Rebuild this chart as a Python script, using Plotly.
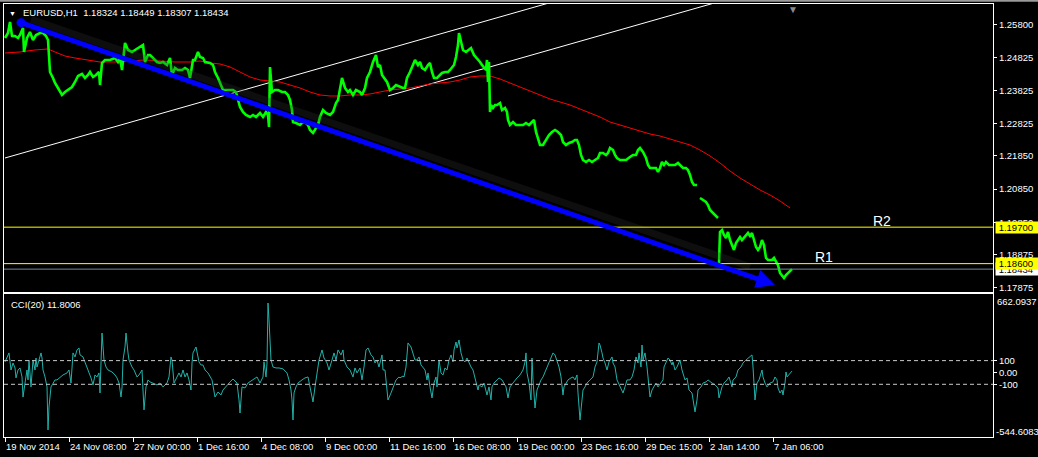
import plotly.graph_objects as go

# ---------------- data ----------------
# EURUSD H1 closes: (bar index, price); None = gap in the bars
price_series = [
    (0, 1.25408), (3, 1.25558), (5, 1.25890), (7, 1.25468), (10, 1.25468), (13, 1.25408), (15, 1.25498),
    (18, 1.25709), (19, 1.24985), (22, 1.25408), (25, 1.25589), (28, 1.25347), (31, 1.25498), (35, 1.25558),
    (38, 1.25558), (41, 1.25468), (43, 1.25347), (44, 1.24593), (45, 1.24382), (48, 1.24201), (50, 1.24050),
    (53, 1.23899), (57, 1.23688), (60, 1.23778), (63, 1.23839), (67, 1.23929), (70, 1.24080), (73, 1.24261),
    (77, 1.24321), (80, 1.24201), (83, 1.24291), (85, 1.24382), (88, 1.24231), (91, 1.24291), (94, 1.24382),
    (95, 1.23989), (97, 1.24653), (100, 1.24744), (105, 1.24744), (110, 1.24804), (113, 1.24683), (115, 1.24804),
    (117, 1.24442), (120, 1.25257), (123, 1.25046), (127, 1.24985), (130, 1.25046), (135, 1.25136), (138, 1.25196),
    (140, 1.24683), (143, 1.24895), (145, 1.24895), (148, 1.24804), (152, 1.24683), (155, 1.24653), (158, 1.24683),
    (162, 1.24593), (165, 1.24804), (167, 1.24291), (170, 1.24502), (173, 1.24442), (177, 1.24442), (180, 1.24502),
    (183, 1.24442), (185, 1.24201), (188, 1.24744), (190, 1.24744), (193, 1.24985), (195, 1.24834), (198, 1.24804),
    (200, 1.24683), (205, 1.24653), (208, 1.24593), (210, 1.24382), (213, 1.24201), (215, 1.24050), (218, 1.23839),
    (221, 1.23839), (225, 1.23839), (228, 1.23839), (231, 1.23778), (233, 1.23537), (235, 1.23326), (238, 1.23175),
    (241, 1.23084), (245, 1.23024), (248, 1.23084), (251, 1.23024), (255, 1.23145), (258, 1.23024), (261, 1.23175),
    (263, 1.23084), (264, 1.22722), (265, 1.24533), (267, 1.23778), (270, 1.23839), (273, 1.23839), (277, 1.23778),
    (280, 1.23778), (283, 1.23688), (285, 1.23537), (287, 1.23235), (288, 1.22873), (291, 1.22843), (295, 1.22783),
    (298, 1.22873), (301, 1.22843), (303, 1.22783), (305, 1.22632), (308, 1.22541), (311, 1.22692), (313, 1.22783),
    (315, 1.23024), (318, 1.23235), (321, 1.23145), (325, 1.23084), (328, 1.23175), (331, 1.23446), (333, 1.23537),
    (335, 1.23899), (337, 1.24201), (340, 1.23899), (343, 1.23778), (345, 1.23839), (348, 1.23688), (351, 1.23839),
    (355, 1.23778), (357, 1.23688), (360, 1.23899), (362, 1.24201), (365, 1.24382), (368, 1.24683), (371, 1.24895),
    (373, 1.24533), (375, 1.24593), (377, 1.24291), (380, 1.24140), (382, 1.24080), (385, 1.23839), (388, 1.23899),
    (391, 1.23989), (395, 1.23929), (398, 1.23899), (400, 1.23899), (402, 1.24201), (405, 1.24382), (408, 1.24593),
    (410, 1.24744), (413, 1.24593), (415, 1.24683), (417, 1.24502), (420, 1.24442), (423, 1.24593), (425, 1.24653),
    (427, 1.24382), (429, 1.24201), (432, 1.24201), (435, 1.24291), (437, 1.24352), (440, 1.24382), (443, 1.24382),
    (445, 1.24442), (447, 1.24533), (449, 1.24593), (451, 1.24834), (453, 1.25196), (454, 1.25558), (456, 1.25287),
    (458, 1.25046), (461, 1.24985), (463, 1.25046), (466, 1.25106), (469, 1.24895), (472, 1.24804), (475, 1.24683),
    (477, 1.24593), (479, 1.24502), (481, 1.24442), (482, 1.24744), (483, 1.24080), (484, 1.24683), (485, 1.23175),
    (486, 1.23386), (488, 1.23296), (490, 1.23386), (492, 1.23386), (495, 1.23446), (497, 1.23235), (500, 1.23296),
    (502, 1.23175), (503, 1.22934), (505, 1.22783), (508, 1.22873), (511, 1.22783), (515, 1.22783), (518, 1.22783),
    (521, 1.22843), (524, 1.22783), (527, 1.22873), (529, 1.22934), (531, 1.22572), (533, 1.22330), (535, 1.22179),
    (538, 1.22179), (541, 1.22330), (544, 1.22481), (547, 1.22572), (550, 1.22632), (553, 1.22572), (556, 1.22481),
    (558, 1.22270), (561, 1.22179), (564, 1.22240), (567, 1.22270), (570, 1.22330), (572, 1.22330), (574, 1.22179),
    (576, 1.21878), (578, 1.21727), (581, 1.21666), (584, 1.21727), (587, 1.21666), (590, 1.21727), (593, 1.21787),
    (595, 1.21938), (598, 1.21938), (601, 1.21878), (603, 1.21938), (605, 1.22089), (608, 1.22028), (610, 1.21878),
    (612, 1.21787), (615, 1.21727), (618, 1.21727), (621, 1.21727), (625, 1.21817), (628, 1.21878), (631, 1.21878),
    (633, 1.22028), (635, 1.22089), (638, 1.21968), (641, 1.21787), (643, 1.21576), (645, 1.21485), (648, 1.21485),
    (651, 1.21485), (653, 1.21365), (655, 1.21485), (657, 1.21666), (659, 1.21576), (661, 1.21666), (664, 1.21576),
    (667, 1.21576), (670, 1.21576), (673, 1.21636), (675, 1.21576), (678, 1.21485), (681, 1.21485), (683, 1.21425),
    (685, 1.21274), (687, 1.21063), (689, 1.20973), (692, 1.20973), (None, None),
    (695, 1.20580), (698, 1.20520), (701, 1.20460), (703, 1.20369), (705, 1.20218), (708, 1.20128), (711, 1.20037),
    (713, 1.19977), (None, None),
    (714, 1.18589), (715, 1.19555), (717, 1.19615), (719, 1.19464), (721, 1.19374), (723, 1.19555), (725, 1.19313),
    (727, 1.19162), (729, 1.19012), (731, 1.19223), (733, 1.19313), (735, 1.19404), (737, 1.19313), (739, 1.19374),
    (741, 1.19464), (743, 1.19524), (745, 1.19434), (747, 1.19524), (749, 1.19313), (751, 1.19102), (753, 1.19012),
    (755, 1.19102), (757, 1.19313), (759, 1.19162), (761, 1.18770), (763, 1.18710), (765, 1.18710), (767, 1.18710),
    (769, 1.18770), (771, 1.18649), (773, 1.18559), (775, 1.18318), (777, 1.18227), (779, 1.18167), (781, 1.18257),
    (783, 1.18318), (785, 1.18348), (787, 1.18434),
]

# Moving average (red)
ma_series = [
    (0, 1.24955), (15, 1.24985), (30, 1.25046), (43, 1.25076), (50, 1.24985), (60, 1.24864), (70, 1.24804),
    (85, 1.24744), (95, 1.24683), (110, 1.24683), (125, 1.24714), (140, 1.24744), (155, 1.24714), (170, 1.24683),
    (185, 1.24683), (195, 1.24714), (205, 1.24653), (215, 1.24623), (225, 1.24533), (235, 1.24382), (245, 1.24231),
    (255, 1.24140), (265, 1.24110), (275, 1.24080), (285, 1.23989), (295, 1.23899), (305, 1.23778), (315, 1.23688),
    (325, 1.23658), (335, 1.23658), (345, 1.23688), (355, 1.23688), (365, 1.23718), (375, 1.23778), (385, 1.23839),
    (395, 1.23869), (405, 1.23899), (415, 1.23959), (425, 1.24020), (435, 1.24050), (445, 1.24080), (455, 1.24140),
    (465, 1.24231), (475, 1.24261), (485, 1.24261), (495, 1.24171), (505, 1.24050), (515, 1.23929), (525, 1.23809),
    (535, 1.23688), (545, 1.23567), (555, 1.23477), (565, 1.23386), (575, 1.23265), (585, 1.23145), (595, 1.23024),
    (605, 1.22873), (615, 1.22783), (625, 1.22692), (635, 1.22602), (645, 1.22511), (655, 1.22451), (665, 1.22360),
    (675, 1.22270), (685, 1.22179), (695, 1.22028), (705, 1.21848), (715, 1.21636), (725, 1.21395), (735, 1.21184),
    (745, 1.21003), (755, 1.20822), (765, 1.20671), (775, 1.20490), (785, 1.20279),
]

# CCI(20)
cci_series = [
    (0, 89), (2, 131), (4, 165), (6, 21), (8, 80), (10, 38), (11, -46), (13, 21), (15, 38), (17, -38), (18, -207),
    (20, -89), (22, 21), (23, -63), (24, 105), (26, -122), (27, 46), (28, 105), (30, 21), (31, 122), (32, 46),
    (34, 105), (36, 165), (37, 122), (38, 21), (40, -38), (42, -122), (43, -485), (44, -291), (46, -122), (48, -89),
    (50, -63), (52, -63), (55, -38), (58, -21), (62, -4), (64, 21), (66, -89), (67, 105), (68, 165), (70, 131),
    (72, 190), (74, 207), (75, 148), (78, 131), (80, 89), (82, 46), (84, -4), (86, -46), (88, -105), (90, -21),
    (92, -38), (94, -4), (95, -173), (96, 165), (97, 333), (99, 105), (101, 46), (103, 21), (107, 4), (110, -21),
    (112, -46), (114, -89), (116, -207), (117, -131), (118, 105), (120, 215), (121, 333), (123, 165), (124, 105),
    (127, 46), (129, 21), (132, -38), (134, -21), (137, 21), (138, -122), (139, -316), (141, -122), (143, -63),
    (145, -80), (148, -89), (152, -105), (155, -89), (158, -122), (162, -89), (164, -38), (166, 131), (167, 105),
    (169, -89), (172, -38), (174, -4), (176, -38), (178, 21), (180, -38), (182, -4), (184, -63), (186, -148),
    (187, 80), (188, 165), (191, 215), (192, 165), (194, 89), (196, 63), (198, 63), (200, 21), (203, -4), (207, -63),
    (210, -207), (213, -165), (216, -190), (218, -148), (222, -105), (225, -80), (228, -55), (232, -89), (234, -232),
    (235, -342), (237, -122), (240, -131), (243, -89), (247, -63), (250, -46), (252, -38), (255, -89), (258, -38),
    (259, 89), (261, -38), (262, 80), (263, 586), (264, 443), (266, 105), (268, 46), (271, 38), (274, 38), (278, 30),
    (282, -4), (284, -63), (286, -148), (287, -232), (288, -401), (289, -173), (291, -122), (293, -89), (297, -63),
    (300, -46), (303, -38), (305, -122), (307, -232), (308, -249), (310, -122), (312, -4), (314, 105), (317, 190),
    (319, 122), (322, 80), (324, 21), (327, 105), (329, 165), (331, 105), (333, 190), (336, 148), (338, 190),
    (339, 105), (342, 46), (345, 21), (348, -38), (350, 38), (352, -4), (355, 38), (357, -63), (359, 46), (361, 190),
    (363, 207), (366, 148), (368, 131), (370, 80), (372, 105), (374, 46), (377, 148), (378, 21), (380, 21),
    (382, -148), (383, -232), (386, -173), (388, -122), (391, -63), (394, -38), (395, -46), (398, -30), (399, -38),
    (401, 46), (403, 249), (406, 215), (408, 165), (410, 105), (412, 105), (414, 131), (416, 63), (418, 46),
    (420, 21), (422, -63), (423, -4), (425, -122), (427, -215), (429, -89), (431, -38), (432, -122), (434, 105),
    (436, -4), (438, -21), (440, 38), (442, 21), (444, 105), (446, 148), (448, 89), (449, 190), (451, 257),
    (452, 207), (454, 274), (456, 165), (458, 105), (460, 89), (462, 122), (464, 80), (466, 46), (468, 21),
    (471, -89), (473, -148), (474, -105), (477, -122), (479, -89), (481, -165), (482, -190), (484, -122),
    (486, -232), (487, -122), (489, -89), (492, -63), (494, -46), (497, -63), (499, -89), (501, -122), (503, -215),
    (505, -122), (508, -89), (510, -63), (512, -46), (515, -21), (518, 21), (520, 89), (521, 165), (522, -4),
    (524, -89), (526, -232), (527, 122), (528, -63), (530, -300), (532, -148), (533, -122), (536, -63), (538, -38),
    (540, 4), (542, 46), (545, 105), (548, 165), (550, 148), (552, 105), (554, 46), (556, -38), (558, -190),
    (559, -122), (561, -89), (563, -63), (566, -46), (568, -38), (570, -63), (572, -21), (573, -173), (575, -401),
    (577, -232), (578, -148), (580, -122), (582, -89), (585, -63), (588, -38), (590, 46), (592, 89), (594, 249),
    (595, 232), (597, 165), (598, 122), (600, 80), (602, 21), (604, 89), (607, 131), (608, 80), (610, 46),
    (612, -63), (615, -122), (618, -173), (620, -122), (622, -63), (625, -63), (627, -38), (629, 21), (631, 131),
    (633, 80), (634, 165), (636, 46), (637, 232), (638, 105), (640, 165), (642, 46), (643, -63), (645, -207),
    (647, -148), (649, -122), (651, -89), (653, -122), (656, -89), (658, -63), (659, 46), (661, 80), (663, 122),
    (665, 105), (667, 63), (668, 89), (670, 21), (672, 46), (675, 105), (677, 21), (678, -4), (680, -63),
    (682, -46), (684, -148), (687, -173), (688, -232), (690, -333), (692, -232), (693, -148), (696, -122),
    (698, -89), (701, -80), (703, -63), (707, -89), (710, -105), (713, -131), (714, -215), (717, -122), (719, -89),
    (722, -63), (724, -38), (727, -122), (728, -63), (731, -38), (733, 21), (736, 46), (738, 80), (741, 105),
    (743, 122), (745, 131), (747, 148), (748, 46), (750, -232), (752, -89), (754, -63), (757, 21), (758, -38),
    (760, -89), (762, -122), (765, -89), (768, -80), (770, -38), (772, -63), (773, -131), (775, -173), (777, -148),
    (778, -190), (780, -89), (781, 4), (782, -38), (784, -21), (786, -4), (787, 11.8006),
]

# time axis
time_tick_idx = [0, 64, 128, 192, 256, 320, 384, 448, 512, 576, 640, 704, 768]
time_tick_text = ["19 Nov 2014", "24 Nov 08:00", "27 Nov 00:00", "1 Dec 16:00", "4 Dec 08:00", "9 Dec 00:00",
                  "11 Dec 16:00", "16 Dec 08:00", "19 Dec 00:00", "23 Dec 16:00", "29 Dec 15:00",
                  "2 Jan 14:00", "7 Jan 06:00"]

# price axis
price_tick_vals = [1.25800, 1.24825, 1.23825, 1.22825, 1.21850, 1.20850, 1.19850, 1.18875, 1.17875]
price_tick_text = ["1.25800", "1.24825", "1.23825", "1.22825", "1.21850", "1.20850", "1.19850", "1.18875", "1.17875"]
price_range = [1.17744, 1.26433]

cci_range = [-544.6083, 662.0937]
cci_levels = [100, -100]

# drawn objects
resistance_levels = [1.19700, 1.18600]
resistance_names = ["R2", "R1"]
resistance_label_pos = [(877, 1.19886), (819, 1.18791)]
bid_price = 1.18434
trend_start = (16, 1.25869)
trend_end = (770, 1.17956)
channel_lower = [(0, 1.21787), (600, 1.26946)]
channel_upper = [(383, 1.23658), (800, 1.27243)]
ohlc = ["1.18324", "1.18449", "1.18307", "1.18434"]
cci_last = "11.8006"

# ---------------- figure ----------------
FONT = "Liberation Sans, Arial, sans-serif"
fig = go.Figure()

px_, py_ = zip(*price_series)
mx_, my_ = zip(*ma_series)
cx_, cy_ = zip(*cci_series)

# channel lines
for seg in (channel_lower, channel_upper):
    fig.add_trace(go.Scatter(x=[seg[0][0], seg[1][0]], y=[seg[0][1], seg[1][1]], mode="lines",
                             line=dict(color="white", width=1), xaxis="x", yaxis="y", hoverinfo="skip"))

fig.add_trace(go.Scatter(x=list(mx_), y=list(my_), mode="lines", line=dict(color="#ff0000", width=1),
                         xaxis="x", yaxis="y"))
fig.add_trace(go.Scatter(x=list(px_), y=list(py_), mode="lines", line=dict(color="#00ff00", width=2.6),
                         connectgaps=False, xaxis="x", yaxis="y"))

# faint shadow along the trendline
shadow_off = 0.0010
fig.add_trace(go.Scatter(x=[trend_start[0] + 10, trend_end[0] - 25],
                         y=[trend_start[1] + shadow_off, trend_end[1] + shadow_off + 0.0045],
                         mode="lines", line=dict(color="rgba(50,50,50,0.28)", width=7), xaxis="x", yaxis="y",
                         hoverinfo="skip"))
# trendline start dot
fig.add_trace(go.Scatter(x=[trend_start[0]], y=[trend_start[1]], mode="markers",
                         marker=dict(color="#0000ff", size=9), xaxis="x", yaxis="y"))

fig.add_trace(go.Scatter(x=list(cx_), y=list(cy_), mode="lines", line=dict(color="#20b2aa", width=1),
                         xaxis="x2", yaxis="y2"))

shapes = []
for lv in resistance_levels:
    shapes.append(dict(type="line", xref="paper", x0=0, x1=1, yref="y", y0=lv, y1=lv,
                       line=dict(color="#ffff00", width=1)))
shapes.append(dict(type="line", xref="paper", x0=0, x1=1, yref="y", y0=bid_price, y1=bid_price,
                   line=dict(color="#778899", width=1)))
for lv in cci_levels:
    shapes.append(dict(type="line", xref="paper", x0=0, x1=1, yref="y2", y0=lv, y1=lv,
                       line=dict(color="#c8c8c8", width=1, dash="4px,3px")))
# window border at the very top
shapes.append(dict(type="line", xref="paper", x0=-0.01, x1=1.06, yref="paper", y0=1.0075, y1=1.0075,
                   line=dict(color="#9a9a9a", width=2)))

ann = []
txt = dict(color="white", family=FONT, size=9.5)
ann.append(dict(xref="paper", yref="paper", x=0.0168, y=0.980, xanchor="left", yanchor="middle", showarrow=False,
                text="EURUSD,H1\u00a0\u00a0" + " ".join(ohlc), font=txt))
ann.append(dict(xref="paper", yref="paper", x=0.0085, y=0.979, xanchor="center", yanchor="middle", showarrow=False,
                text="▼", font=dict(color="white", size=7, family=FONT)))
ann.append(dict(xref="paper", yref="paper", x=0.005, y=0.307, xanchor="left", yanchor="middle", showarrow=False,
                text="CCI(20) " + cci_last, font=txt))
ann.append(dict(xref="x", yref="paper", x=788, y=1.0, xanchor="center", yanchor="top", showarrow=False, yshift=2,
                text="▼", font=dict(color="#8a8a8a", size=10, family=FONT)))
for name, (lx, ly) in zip(resistance_names, resistance_label_pos):
    ann.append(dict(xref="x", yref="y", x=lx, y=ly, showarrow=False, text=name,
                    font=dict(color="white", size=14, family=FONT)))
# price labels on the right axis (bid label sits under the R1 label, as in MT4)
ann.append(dict(xref="paper", yref="y", x=1, y=bid_price, xanchor="left", yanchor="middle", xshift=2, showarrow=False,
                text="\u00a0" + f"{bid_price:.5f}", bgcolor="white", width=42, height=12, borderpad=0, align="left",
                font=dict(color="black", size=9.5, family=FONT)))
for lv in sorted(resistance_levels):
    ann.append(dict(xref="paper", yref="y", x=1, y=lv, xanchor="left", yanchor="middle", xshift=2, showarrow=False,
                    text="\u00a0" + f"{lv:.5f}", bgcolor="#ffff00", width=42, height=11, borderpad=0, align="left",
                    font=dict(color="black", size=9.5, family=FONT)))
# cci extreme labels
ann.append(dict(xref="paper", yref="paper", x=1, y=0.3118, xanchor="left", yanchor="middle", xshift=2,
                showarrow=False, text=f"{cci_range[1]:.4f}", font=txt))
ann.append(dict(xref="paper", yref="paper", x=1, y=0.0122, xanchor="left", yanchor="middle", xshift=1,
                showarrow=False, text=f"{cci_range[0]:.4f}", font=txt))
# time labels
for ti, tt in zip(time_tick_idx, time_tick_text):
    ann.append(dict(xref="x2", yref="paper", x=ti, y=0, xanchor="left", yanchor="top", yshift=-2, xshift=-1,
                    showarrow=False, text=tt, font=txt))
# blue trend arrow
ann.append(dict(xref="x", yref="y", axref="x", ayref="y", x=trend_end[0], y=trend_end[1],
                ax=trend_start[0], ay=trend_start[1], text="", showarrow=True, arrowhead=2, arrowsize=0.75,
                arrowwidth=5, arrowcolor="#0000ff"))

axis_common = dict(showgrid=False, zeroline=False, showline=True, linecolor="white", linewidth=1, mirror=True)
fig.update_layout(
    width=1038, height=457,
    margin=dict(l=4, r=45, t=4, b=20),
    paper_bgcolor="black", plot_bgcolor="black",
    showlegend=False,
    hovermode=False,
    xaxis=dict(domain=[0, 1], range=[-1, 988], anchor="y", showticklabels=False, ticks="", **axis_common),
    yaxis=dict(domain=[0.33487, 1], range=price_range, side="right", anchor="x",
               tickvals=price_tick_vals, ticktext=price_tick_text, ticks="outside", ticklen=3,
               tickcolor="white", tickfont=dict(color="white", size=9.5, family=FONT), **axis_common),
    xaxis2=dict(domain=[0, 1], range=[-1, 988], anchor="y2", matches="x", tickvals=time_tick_idx,
                showticklabels=False, ticks="outside", ticklen=4, tickcolor="white", **axis_common),
    yaxis2=dict(domain=[0, 0.33025], range=cci_range, side="right", anchor="x2",
                tickvals=[100, 0, -100], ticktext=["100", "0.00", "-100"], ticks="outside", ticklen=3,
                tickcolor="white", tickfont=dict(color="white", size=9.5, family=FONT), **axis_common),
    shapes=shapes,
    annotations=ann,
)

fig.write_html("out.html", config={"displayModeBar": False},
               post_script="document.body.style.margin='0';")
